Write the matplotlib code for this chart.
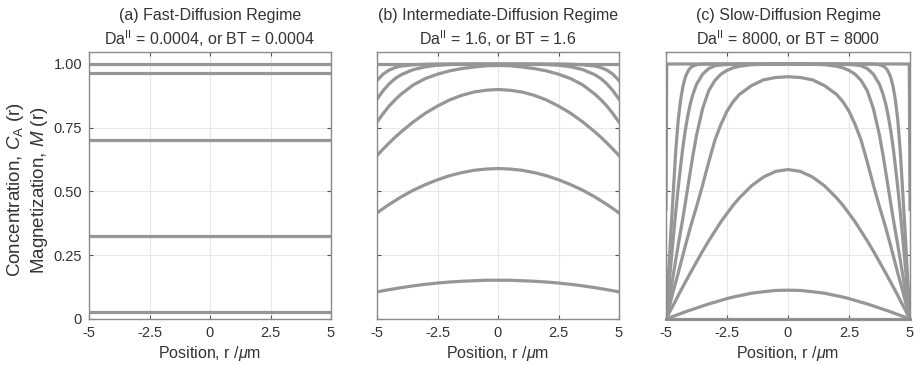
import matplotlib
matplotlib.use("Agg")
import matplotlib.pyplot as plt

plt.rcParams['font.family'] = ['Liberation Sans', 'DejaVu Sans']
plt.rcParams['mathtext.fontset'] = 'custom'
plt.rcParams['mathtext.rm'] = 'Liberation Sans'
plt.rcParams['mathtext.it'] = 'Liberation Sans:italic'

# panel titles
titles = ["(a) Fast-Diffusion Regime\nDa$^{\\mathregular{II}}$ = 0.0004, or BT = 0.0004",
          "(b) Intermediate-Diffusion Regime\nDa$^{\\mathregular{II}}$ = 1.6, or BT = 1.6",
          "(c) Slow-Diffusion Regime\nDa$^{\\mathregular{II}}$ = 8000, or BT = 8000"]

x_ticks = [-5, -2.5, 0, 2.5, 5]
x_tick_labels = ["-5", "-2.5", "0", "2.5", "5"]
y_ticks = [0, 0.25, 0.5, 0.75, 1.0]
y_tick_labels = ["0", "0.25", "0.50", "0.75", "1.00"]

# (a) fast diffusion: flat profiles
x_ends = [-5, 5]
a_levels = [0.027, 0.327, 0.703, 0.963, 1.0]

# (b) intermediate diffusion
x_b = [-5, -4.75, -4.5, -4.25, -4, -3.5, -3, -2.5, -2, -1.5, -1, -0.5, 0,
       0.5, 1, 1.5, 2, 2.5, 3, 3.5, 4, 4.25, 4.5, 4.75, 5]
b1 = [0.106, 0.111, 0.115, 0.119, 0.123, 0.130, 0.136, 0.141, 0.145, 0.148, 0.150, 0.152, 0.152,
      0.152, 0.150, 0.148, 0.145, 0.141, 0.136, 0.130, 0.123, 0.119, 0.115, 0.111, 0.106]
b2 = [0.416, 0.433, 0.449, 0.464, 0.479, 0.505, 0.527, 0.546, 0.562, 0.574, 0.583, 0.588, 0.590,
      0.588, 0.583, 0.574, 0.562, 0.546, 0.527, 0.505, 0.479, 0.464, 0.449, 0.433, 0.416]
b3 = [0.641, 0.666, 0.690, 0.713, 0.734, 0.773, 0.807, 0.835, 0.859, 0.877, 0.890, 0.897, 0.900,
      0.897, 0.890, 0.877, 0.859, 0.835, 0.807, 0.773, 0.734, 0.713, 0.690, 0.666, 0.641]
b4 = [0.772, 0.805, 0.835, 0.860, 0.882, 0.918, 0.943, 0.960, 0.973, 0.982, 0.988, 0.993, 0.994,
      0.993, 0.988, 0.982, 0.973, 0.960, 0.943, 0.918, 0.882, 0.860, 0.835, 0.805, 0.772]
b5 = [0.862, 0.895, 0.922, 0.943, 0.958, 0.978, 0.989, 0.995, 0.998, 0.999, 1.0, 1.0, 1.0,
      1.0, 1.0, 0.999, 0.998, 0.995, 0.989, 0.978, 0.958, 0.943, 0.922, 0.895, 0.862]
b6 = [0.935, 0.960, 0.976, 0.986, 0.992, 0.997, 0.999, 1.0, 1.0, 1.0, 1.0, 1.0, 1.0,
      1.0, 1.0, 1.0, 1.0, 1.0, 0.999, 0.997, 0.992, 0.986, 0.976, 0.960, 0.935]
b7 = [1.0, 1.0]

# (c) slow diffusion
x_c = [-5, -4.95, -4.9, -4.8, -4.7, -4.6, -4.5, -4.4, -4.3, -4.2, -4.1, -4, -3.9, -3.75,
       -3.5, -3.25, -3, -2.75, -2.5, -2.25, -2, -1.5, -1, -0.5, 0,
       0.5, 1, 1.5, 2, 2.25, 2.5, 2.75, 3, 3.25, 3.5, 3.75, 3.9, 4,
       4.1, 4.2, 4.3, 4.4, 4.5, 4.6, 4.7, 4.8, 4.9, 4.95, 5]
c0 = [0.0, 0.0]
c1 = [0, 0.002, 0.004, 0.007, 0.011, 0.014, 0.018, 0.021, 0.025, 0.028, 0.032, 0.035, 0.038, 0.043,
      0.051, 0.059, 0.066, 0.073, 0.080, 0.086, 0.091, 0.101, 0.107, 0.112, 0.113,
      0.112, 0.107, 0.101, 0.091, 0.086, 0.080, 0.073, 0.066, 0.059, 0.051, 0.043, 0.038, 0.035,
      0.032, 0.028, 0.025, 0.021, 0.018, 0.014, 0.011, 0.007, 0.004, 0.002, 0]
c2 = [0, 0.009, 0.018, 0.037, 0.055, 0.073, 0.092, 0.110, 0.128, 0.146, 0.163, 0.181, 0.198, 0.224,
      0.266, 0.306, 0.344, 0.381, 0.414, 0.446, 0.474, 0.522, 0.557, 0.579, 0.586,
      0.579, 0.557, 0.522, 0.474, 0.446, 0.414, 0.381, 0.344, 0.306, 0.266, 0.224, 0.198, 0.181,
      0.163, 0.146, 0.128, 0.110, 0.092, 0.073, 0.055, 0.037, 0.018, 0.009, 0]
c3 = [0, 0.018, 0.036, 0.073, 0.110, 0.145, 0.180, 0.217, 0.253, 0.290, 0.325, 0.360, 0.392, 0.440,
      0.525, 0.615, 0.700, 0.763, 0.815, 0.852, 0.880, 0.915, 0.938, 0.947, 0.950,
      0.947, 0.938, 0.915, 0.880, 0.852, 0.815, 0.763, 0.700, 0.615, 0.525, 0.440, 0.392, 0.360,
      0.325, 0.290, 0.253, 0.217, 0.180, 0.145, 0.110, 0.073, 0.036, 0.018, 0]
c4 = [0, 0.029, 0.058, 0.116, 0.174, 0.232, 0.290, 0.345, 0.400, 0.460, 0.520, 0.580, 0.640, 0.720,
      0.825, 0.895, 0.935, 0.960, 0.975, 0.985, 0.991, 0.997, 0.999, 1.0, 1.0,
      1.0, 0.999, 0.997, 0.991, 0.985, 0.975, 0.960, 0.935, 0.895, 0.825, 0.720, 0.640, 0.580,
      0.520, 0.460, 0.400, 0.345, 0.290, 0.232, 0.174, 0.116, 0.058, 0.029, 0]
c5 = [0, 0.054, 0.108, 0.215, 0.320, 0.420, 0.515, 0.600, 0.680, 0.745, 0.800, 0.845, 0.880, 0.920,
      0.960, 0.982, 0.993, 0.996, 0.998, 0.999, 1.0, 1.0, 1.0, 1.0, 1.0,
      1.0, 1.0, 1.0, 1.0, 0.999, 0.998, 0.996, 0.993, 0.982, 0.960, 0.920, 0.880, 0.845,
      0.800, 0.745, 0.680, 0.600, 0.515, 0.420, 0.320, 0.215, 0.108, 0.054, 0]
c6 = [0, 0.085, 0.170, 0.340, 0.500, 0.660, 0.780, 0.860, 0.915, 0.950, 0.972, 0.985, 0.992, 0.997,
      1.0, 1.0, 1.0, 1.0, 1.0, 1.0, 1.0, 1.0, 1.0, 1.0, 1.0,
      1.0, 1.0, 1.0, 1.0, 1.0, 1.0, 1.0, 1.0, 1.0, 1.0, 0.997, 0.992, 0.985,
      0.972, 0.950, 0.915, 0.860, 0.780, 0.660, 0.500, 0.340, 0.170, 0.085, 0]
x_c7 = [-5, -4.97, 4.97, 5]
c7 = [0.43, 1.0, 1.0, 0.43]

line_color = '#969696'
text_color = '#333333'
lw = 2.3

fig = plt.figure(figsize=(9.15, 3.65), dpi=100)
lefts = [89, 377, 666]
widths = [242, 242, 244]
axes = [fig.add_axes([l / 915, 46 / 365, w / 915, 267 / 365]) for l, w in zip(lefts, widths)]

for lev in a_levels:
    axes[0].plot(x_ends, [lev, lev], color=line_color, lw=lw)

for y in [b1, b2, b3, b4, b5, b6]:
    axes[1].plot(x_b, y, color=line_color, lw=lw)
axes[1].plot(x_ends, b7, color=line_color, lw=lw)

axes[2].plot(x_ends, c0, color=line_color, lw=lw, clip_on=False)
for y in [c1, c2, c3, c4, c5, c6]:
    axes[2].plot(x_c, y, color=line_color, lw=lw)
axes[2].plot(x_c7, c7, color=line_color, lw=lw)

for i, ax in enumerate(axes):
    ax.set_xlim(-5, 5)
    ax.set_ylim(0, 1.047)
    ax.set_xticks(x_ticks)
    ax.set_xticklabels(x_tick_labels)
    ax.set_yticks(y_ticks)
    if i == 0:
        ax.set_yticklabels(y_tick_labels)
    else:
        ax.set_yticklabels([])
    ax.grid(True, color='#e8e8e8', lw=0.8)
    ax.set_axisbelow(True)
    ax.tick_params(direction='in', length=3, width=0.8, color='#555555',
                   labelsize=10.5, labelcolor=text_color, top=True, right=True, pad=5)
    for s in ax.spines.values():
        s.set_color('#8a8a8a')
        s.set_linewidth(1.0)
    ax.set_title(titles[i], fontsize=11.5, color=text_color, linespacing=1.35, pad=5)
    ax.set_xlabel("Position, r /$\\mu$m", fontsize=11.5, color=text_color, labelpad=3)

# two-line y label, centred on the first panel
fig.text(27.5 / 915, 1 - 190 / 365,
         "Concentration, $C_{\\mathregular{A}}$ (r)\nMagnetization, $M$ (r)",
         rotation=90, ha='center', va='center', multialignment='center',
         fontsize=13.5, color=text_color, linespacing=1.2)

fig.savefig("out.png", dpi=100)
